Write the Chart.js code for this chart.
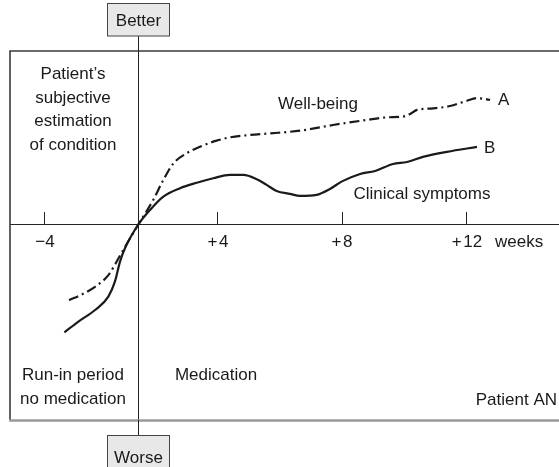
<!DOCTYPE html>
<html>
<head>
<meta charset="utf-8">
<script src="https://cdn.jsdelivr.net/npm/chart.js@4.4.1/dist/chart.umd.min.js"></script>
<style>
  html, body { margin: 0; padding: 0; background: #ffffff; }
  #wrap { width: 559px; height: 467px; }
</style>
</head>
<body>
<div id="wrap"><canvas id="c" width="559" height="467"></canvas></div>
<script>
// ---- data (x = weeks, y = subjective condition score) ----
const wellbeingWeeks = [-2.97, -2.43, -1.86, -1.29, -0.86, -0.58, 0, 0.74, 1.25, 1.75, 2.43, 3.09, 3.93, 4.39, 5.03, 5.68, 6.65, 7.71, 8.8, 9.44, 9.95, 10.18, 10.4, 10.91, 11.46, 12.0, 12.32, 12.64, 12.74];
const wellbeingScore = [-3.88, -3.59, -3.20, -2.60, -1.75, -1.16, 0, 1.24, 2.26, 3.10, 3.63, 3.96, 4.27, 4.44, 4.56, 4.64, 4.78, 5.07, 5.33, 5.46, 5.50, 5.63, 5.84, 5.92, 6.04, 6.31, 6.44, 6.38, 6.35];

const symptomsWeeks = [-3.17, -2.57, -1.86, -1.29, -1.01, -0.79, -0.58, 0, 0.58, 1.25, 2.09, 2.93, 3.76, 4.39, 4.82, 5.25, 5.57, 5.89, 6.32, 6.65, 7.18, 7.61, 8.0, 8.58, 9.06, 9.63, 10.08, 10.59, 11.36, 12.32];
const symptomsScore = [-5.52, -4.97, -4.38, -3.70, -2.93, -1.91, -1.23, 0, 0.73, 1.41, 1.84, 2.12, 2.35, 2.52, 2.52, 2.30, 2.01, 1.70, 1.55, 1.45, 1.50, 1.80, 2.19, 2.57, 2.72, 3.08, 3.18, 3.44, 3.70, 3.95];

const xTickValues = [-4, 4, 8, 12];
const xTickLabels = ['\u22124', '+\u200a4', '+\u200a8', '+\u200a12'];

// ---- a linear scale whose week spacing follows the hand-drawn axis of the original ----
class WarpScale extends Chart.LinearScale {
  _warp() { return this.options.warp; }
  getPixelForValue(v) {
    if (v === null || v === undefined || isNaN(v)) return NaN;
    const {weeks: W, frac: F} = this._warp();
    let i = 0;
    while (i < W.length - 2 && v > W[i + 1]) i++;
    const f = F[i] + (v - W[i]) * (F[i + 1] - F[i]) / (W[i + 1] - W[i]);
    return this.getPixelForDecimal(f);
  }
  getValueForPixel(p) {
    const {weeks: W, frac: F} = this._warp();
    const f = this.getDecimalForPixel(p);
    let i = 0;
    while (i < F.length - 2 && f > F[i + 1]) i++;
    return W[i] + (f - F[i]) * (W[i + 1] - W[i]) / (F[i + 1] - F[i]);
  }
}
WarpScale.id = 'warp';
WarpScale.defaults = Chart.LinearScale.defaults;
Chart.register(WarpScale);

const FONT = '"Liberation Sans", Arial, Helvetica, sans-serif';
const INK = '#1a1a1a';

const decor = {
  id: 'decor',
  beforeDatasetsDraw(chart) {
    const {ctx, chartArea: a} = chart;
    ctx.save();
    // frame
    ctx.strokeStyle = '#3a3a3a';
    ctx.lineWidth = 1.6;
    ctx.beginPath();
    ctx.moveTo(a.left, a.bottom); ctx.lineTo(a.left, a.top); ctx.lineTo(a.right + 5, a.top);
    ctx.stroke();
    ctx.strokeStyle = '#9a9a9a';
    ctx.lineWidth = 2.5;
    ctx.beginPath();
    ctx.moveTo(a.left - 0.8, a.bottom + 0.5); ctx.lineTo(a.right + 5, a.bottom + 0.5);
    ctx.stroke();
    ctx.restore();
  },
  afterDraw(chart) {
    const {ctx, chartArea: a} = chart;
    const x0 = Math.round(chart.scales.x.getPixelForValue(0)) + 0.5;
    ctx.save();
    // vertical axis extensions to the labelled boxes
    ctx.strokeStyle = '#222';
    ctx.lineWidth = 1;
    ctx.beginPath();
    ctx.moveTo(x0, 36); ctx.lineTo(x0, a.top);
    ctx.moveTo(x0, a.bottom); ctx.lineTo(x0, 435);
    ctx.stroke();
    // Better / Worse boxes
    ctx.fillStyle = '#e8e8e8';
    ctx.strokeStyle = '#444';
    ctx.fillRect(x0 - 31, 3.5, 62, 32.5);
    ctx.strokeRect(x0 - 31, 3.5, 62, 32.5);
    ctx.fillRect(x0 - 31, 435.5, 62, 40);
    ctx.strokeRect(x0 - 31, 435.5, 62, 40);

    ctx.fillStyle = INK;
    ctx.font = '17px ' + FONT;
    ctx.textBaseline = 'alphabetic';
    ctx.textAlign = 'center';
    ctx.fillText('Better', x0, 25.5);
    ctx.fillText('Worse', x0, 463);

    ctx.fillText('Patient\u2019s', 73, 79);
    ctx.fillText('subjective', 73, 102.5);
    ctx.fillText('estimation', 73, 126);
    ctx.fillText('of condition', 73, 149.5);

    ctx.fillText('Well-being', 318, 109);
    ctx.fillText('Clinical symptoms', 422, 199);

    ctx.fillText('Run-in period', 73, 380);
    ctx.fillText('no medication', 73, 404);
    ctx.fillText('Medication', 216, 380);

    ctx.textAlign = 'left';
    ctx.fillText('A', 498, 105);
    ctx.fillText('B', 484, 153);
    ctx.fillText('weeks', 495, 247);

    ctx.textAlign = 'right';
    ctx.fillText('Patient AN', 557, 405);
    ctx.restore();
  }
};

const wellbeingData = wellbeingWeeks.map((w, i) => ({x: w, y: wellbeingScore[i]}));
const symptomsData = symptomsWeeks.map((w, i) => ({x: w, y: symptomsScore[i]}));

new Chart(document.getElementById('c'), {
  type: 'line',
  data: {
    datasets: [
      {
        label: 'Well-being',
        data: wellbeingData,
        borderColor: INK,
        borderWidth: 2.2,
        borderDash: [10, 4, 2, 4],
        pointRadius: 0,
        cubicInterpolationMode: 'monotone',
        fill: false
      },
      {
        label: 'Clinical symptoms',
        data: symptomsData,
        borderColor: INK,
        borderWidth: 2.2,
        pointRadius: 0,
        cubicInterpolationMode: 'monotone',
        fill: false
      }
    ]
  },
  options: {
    responsive: false,
    animation: false,
    devicePixelRatio: 1,
    layout: { padding: { left: 10, top: 51, right: 0, bottom: 47 } },
    plugins: { legend: { display: false }, tooltip: { enabled: false } },
    scales: {
      x: {
        type: 'warp',
        warp: {
          weeks: [-5.497, -4, 0, 4, 8, 12, 14.944],
          frac:  [0, 0.06375, 0.23406, 0.37887, 0.60474, 0.83242, 1]
        },
        min: -5.497,
        max: 14.944,
        position: { y: 0 },
        afterBuildTicks: (s) => { s.ticks = xTickValues.map(v => ({value: v})); },
        afterFit: (s) => { s.height = 0; },
        grid: { display: true, drawOnChartArea: false, drawTicks: true, tickLength: -13, color: '#222', lineWidth: 1 },
        border: { display: true, color: '#222', width: 1 },
        ticks: {
          autoSkip: false,
          maxRotation: 0,
          padding: 21,
          color: INK,
          font: { family: FONT, size: 17 },
          callback: (v, i) => xTickLabels[i]
        }
      },
      y: {
        type: 'linear',
        min: -10,
        max: 8.85,
        position: { x: 0 },
        afterFit: (s) => { s.width = 0; },
        grid: { display: false, drawTicks: false },
        border: { display: true, color: '#222', width: 1 },
        ticks: { display: false }
      }
    }
  },
  plugins: [decor]
});
</script>
</body>
</html>
